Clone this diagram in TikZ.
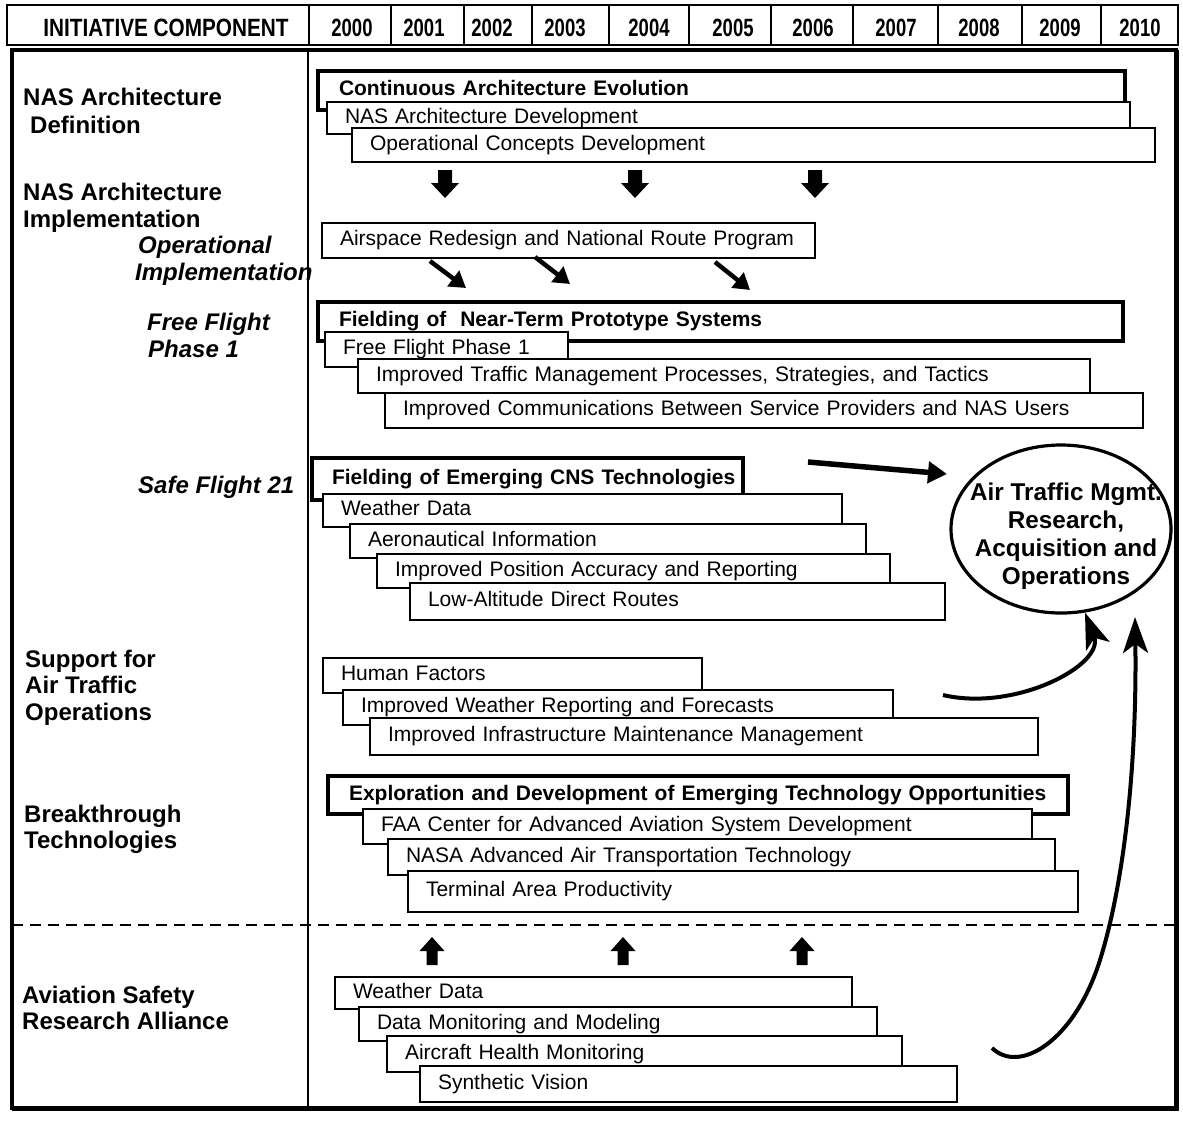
\documentclass[tikz,border=0pt]{standalone}
\usepackage{fontspec}
\setmainfont{Liberation Sans}
\usepackage{graphicx}
\usetikzlibrary{arrows.meta,shapes.geometric}

% fonts
\newcommand\tbfont{\fontsize{21}{25}\selectfont}
\newcommand\tbbold{\fontsize{21}{25}\selectfont\bfseries}
\newcommand\lblfont{\fontsize{24}{28}\selectfont\bfseries}
\newcommand\lblit{\fontsize{24}{28}\selectfont\bfseries\itshape}
\newcommand\hdfont{\fontsize{25}{28}\selectfont\bfseries}
\newcommand\ellfont{\fontsize{24.3}{28}\selectfont\bfseries}

% timeline bar: [inset]{name}{style}{x1}{y1}{x2}{y2}{text}
\newcommand\tbar[8][18]{%
  \pgfmathsetmacro\tbtw{#6-#4-2*#1}%
  \pgfmathsetmacro\tbht{#7-#5}%
  \node[#3, inner xsep=#1pt, text width=\tbtw pt, minimum height=\tbht pt] (#2) at (#4,#5) {\mbox{#8}};%
}
% fat block arrows: {x}{tail y}{tip y}
\newcommand\blkdown[3]{%
  \fill (#1-7,#2) -- (#1+7,#2) -- (#1+7,#3-15) -- (#1+14,#3-15) -- (#1,#3)
        -- (#1-14,#3-15) -- (#1-7,#3-15) -- cycle;}
\newcommand\blkup[3]{%
  \fill (#1-5.5,#2) -- (#1+5.5,#2) -- (#1+5.5,#3+14) -- (#1+12.5,#3+14) -- (#1,#3)
        -- (#1-12.5,#3+14) -- (#1-5.5,#3+14) -- cycle;}

\begin{document}
\begin{tikzpicture}[x=1pt,y=-1pt,
  bar/.style={draw, fill=white, line width=1.4pt, anchor=north west, outer sep=0pt,
    inner ysep=0pt, text height=15pt, text depth=4.5pt, align=left, font=\tbfont},
  thickbar/.style={bar, line width=4.7pt, font=\tbbold},
  lbl/.style={anchor=base west, inner sep=0pt, font=\lblfont},
  lblit/.style={anchor=base west, inner sep=0pt, font=\lblit},
  yr/.style={anchor=base, inner sep=0pt, font=\hdfont},
  diag/.style={line width=4.5pt, -{Triangle[length=16pt,width=19pt]}},
  bigarrow/.style={line width=5.5pt, -{Triangle[length=19pt,width=21pt]}},
  curvearrow/.style={line width=4pt, -{Stealth[length=36pt,width=25pt,inset=9pt]}}
]
\useasboundingbox (0,0) rectangle (1183,1120);
\fill[white] (0,0) rectangle (1183,1120);

% ---- header row ----
\draw[line width=2.5pt] (7,5) rectangle (1178,45);
\foreach \xx in {309,391,464,532,609,689,771,853,938,1022,1101}
  \draw[line width=2pt] (\xx,5) -- (\xx,45);
\node[yr] (hcomp) at (166,36) {\scalebox{0.83}[1]{INITIATIVE COMPONENT}};
\foreach \cx/\yy in {352/2000,424/2001,492/2002,565/2003,649/2004,733/2005,813/2006,896/2007,979/2008,1060/2009,1140/2010}
  \node[yr] (y\yy) at (\cx,36) {\scalebox{0.74}[1]{\yy}};

% ---- left column labels ----
\node[lbl] (l1a) at (23,105) {NAS Architecture};
\node[lbl] (l1b) at (30,133) {Definition};
\node[lbl] (l2a) at (23,200) {NAS Architecture};
\node[lbl] (l2b) at (23,227) {Implementation};
\node[lblit] (l3a) at (138,253) {Operational};
\node[lblit] (l3b) at (135,280) {Implementation};
\node[lblit] (l4a) at (147,330) {Free Flight};
\node[lblit] (l4b) at (148,357) {Phase 1};
\node[lblit] (l5) at (138,493) {Safe Flight 21};
\node[lbl] (l6a) at (25,667) {Support for};
\node[lbl] (l6b) at (25,693) {Air Traffic};
\node[lbl] (l6c) at (25,720) {Operations};
\node[lbl] (l7a) at (24,822) {Breakthrough};
\node[lbl] (l7b) at (24,848) {Technologies};
\node[lbl] (l8a) at (22,1003) {Aviation Safety};
\node[lbl] (l8b) at (22,1029) {Research Alliance};

% column divider
\draw[line width=2pt] (308,50) -- (308,1108);

% ---- NAS architecture definition ----
\tbar[21]{cae}{thickbar}{318}{71}{1125}{110}{Continuous Architecture Evolution}
\tbar{nad}{bar}{327}{102}{1130}{134}{NAS Architecture Development}
\tbar{ocd}{bar}{352}{128}{1155}{162}{Operational Concepts Development}

\blkdown{445}{170}{198}
\blkdown{635}{170}{198}
\blkdown{815}{170}{198}

% ---- operational implementation ----
\tbar{arn}{bar}{322}{223}{815}{258}{Airspace Redesign and National Route Program}
\coordinate (d1s) at (430,261); \coordinate (d1e) at (466,288);
\coordinate (d2s) at (535,257); \coordinate (d2e) at (570,284);
\coordinate (d3s) at (715,262); \coordinate (d3e) at (750,290);
\draw[diag] (d1s) -- (d1e);
\draw[diag] (d2s) -- (d2e);
\draw[diag] (d3s) -- (d3e);

% ---- free flight phase 1 ----
\tbar[21]{fnt}{thickbar}{318}{302}{1123}{341}{Fielding of~ Near-Term Prototype Systems}
\tbar{ffp}{bar}{325}{332}{568}{367}{Free Flight Phase 1}
\tbar{itm}{bar}{358}{359}{1090}{393}{Improved Traffic Management Processes, Strategies, and Tactics}
\tbar{icb}{bar}{385}{393}{1143}{428}{Improved Communications Between Service Providers and NAS Users}

% ---- safe flight 21 ----
\tbar[20]{fec}{thickbar}{312}{458}{743}{500}{Fielding of Emerging CNS Technologies}
\tbar{wd1}{bar}{323}{494}{842}{527}{Weather Data}
\tbar{aei}{bar}{350}{524}{866}{558}{Aeronautical Information}
\tbar{ipa}{bar}{377}{554}{890}{588}{Improved Position Accuracy and Reporting}
\tbar{ldr}{bar}{410}{583}{945}{620}{Low-Altitude Direct Routes}

% ---- support for air traffic operations ----
\tbar{huf}{bar}{323}{658}{702}{693}{Human Factors}
\tbar{iwr}{bar}{343}{690}{893}{725}{Improved Weather Reporting and Forecasts}
\tbar{iim}{bar}{370}{718}{1038}{755}{Improved Infrastructure Maintenance Management}

% ---- breakthrough technologies ----
\tbar[21]{ede}{thickbar}{328}{776}{1068}{814}{Exploration and Development of Emerging Technology Opportunities}
\tbar{faa}{bar}{363}{809}{1032}{844}{FAA Center for Advanced Aviation System Development}
\tbar{nas}{bar}{388}{839}{1055}{875}{NASA Advanced Air Transportation Technology}
\tbar{tap}{bar}{408}{871}{1078}{912}{Terminal Area Productivity}

% ---- separator ----
\draw[line width=2.5pt, dash pattern=on 11pt off 7pt] (12,925) -- (1176,925);

\blkup{432}{965}{937}
\blkup{623}{965}{937}
\blkup{802}{965}{937}

% ---- aviation safety research alliance ----
\tbar{wd2}{bar}{335}{977}{852}{1009}{Weather Data}
\tbar{dmm}{bar}{359}{1007}{877}{1041}{Data Monitoring and Modeling}
\tbar{ahm}{bar}{387}{1036}{902}{1072}{Aircraft Health Monitoring}
\tbar{syv}{bar}{420}{1066}{957}{1102}{Synthetic Vision}

% ---- air traffic management target ----
\node[draw, ellipse, line width=3.2pt, minimum width=220pt, minimum height=168pt, inner sep=0pt] (ell) at (1061,529) {};
\node[align=center, font=\ellfont, inner sep=0pt] (elltext) at (1066,536)
  {Air Traffic Mgmt.\\Research,\\Acquisition and\\Operations};

\coordinate (hs) at (808,462);
\coordinate (he) at (947,474);
\draw[bigarrow] (hs) -- (he);

\coordinate (sc0) at (943,695);
\draw[curvearrow] (sc0) .. controls (1015,712) and (1105,665) .. (ell.-74);

\coordinate (lc0) at (992,1048);
\coordinate (lc1) at (1100,960);
\coordinate (lc2) at (1135,617);
\draw[curvearrow] (lc0) .. controls (1020,1075) and (1075,1040) .. (lc1)
  .. controls (1125,880) and (1137,760) .. (lc2);

% ---- body frame ----
\draw[line width=3.5pt] (12,50) rectangle (1176,1108);
\draw[line width=5pt] (1176,50) -- (1176,1108) -- (12,1108);
\end{tikzpicture}
\end{document}
